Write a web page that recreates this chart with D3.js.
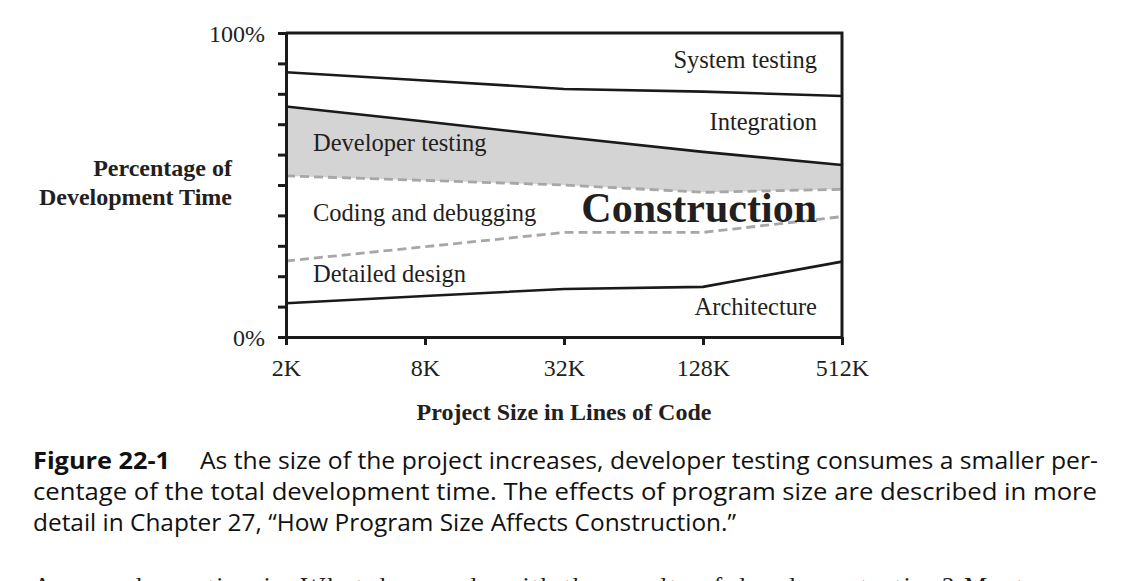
<!DOCTYPE html>
<html>
<head>
<meta charset="utf-8">
<script src="https://cdn.jsdelivr.net/npm/d3@7"></script>
<style>
  html, body { margin: 0; padding: 0; background: #fff; }
  svg { display: block; }
</style>
</head>
<body>
<svg id="chart" width="1143" height="581"></svg>
<script>
// ---- data ----
const sizeLabels = ["2K", "8K", "32K", "128K", "512K"];
const sizeK = [2, 8, 32, 128, 512];
// cumulative percentage boundaries (top edge of each activity band)
const architectureTop = [11.1, 13.5, 15.8, 16.5, 24.8];
const detailedDesignTop = [25.0, 29.7, 34.4, 34.4, 39.6];
const codingTop = [53.0, 51.5, 50.0, 47.6, 48.6];
const developerTestingTop = [75.8, 70.9, 65.8, 60.9, 56.6];
const integrationTop = [87.1, 84.4, 81.6, 80.7, 79.3];
const yTicks = [0, 10, 20, 30, 40, 50, 60, 70, 80, 90, 100];
const yTickLabels = { 0: "0%", 100: "100%" };

const svg = d3.select("#chart");
const serif = "'Liberation Serif', 'Times New Roman', serif";
const sans = "'Open Sans', 'Noto Sans', sans-serif";
const ink = "#231f20";

const x = d3.scaleLog().base(2).domain([2, 512]).range([286, 842]);
const y = d3.scaleLinear().domain([0, 100]).range([337, 33]);

const pts = arr => sizeK.map((k, i) => [k, arr[i]]);
const line = d3.line().x(d => x(d[0])).y(d => y(d[1]));
const area = d3.area()
  .x((d, i) => x(sizeK[i]))
  .y0((d, i) => y(codingTop[i]))
  .y1((d, i) => y(developerTestingTop[i]));

const g = svg.append("g");

// developer testing band
g.append("path").datum(sizeK).attr("d", area).attr("fill", "#d4d4d4");

// dashed boundaries (inside construction)
[detailedDesignTop, codingTop].forEach(arr => {
  g.append("path").datum(pts(arr)).attr("d", line)
    .attr("fill", "none").attr("stroke", "#a7a7a7")
    .attr("stroke-width", 2.8).attr("stroke-dasharray", "9,5");
});
// solid boundaries
[architectureTop, developerTestingTop, integrationTop].forEach(arr => {
  g.append("path").datum(pts(arr)).attr("d", line)
    .attr("fill", "none").attr("stroke", "#1a1a1a")
    .attr("stroke-width", 2.6);
});

// frame: top and right edges
g.append("path")
  .attr("d", `M${x(2)},${y(100)}H${x(512)}V${y(0)}`)
  .attr("fill", "none").attr("stroke", "#1a1a1a").attr("stroke-width", 3);

// axes
const yAxis = d3.axisLeft(y).tickValues(yTicks)
  .tickFormat(d => yTickLabels[d] || "").tickSize(8).tickSizeOuter(0).tickPadding(13);
const ya = svg.append("g").attr("transform", `translate(${x(2)},0)`).call(yAxis);
const xAxis = d3.axisBottom(x).tickValues(sizeK)
  .tickFormat((d, i) => sizeLabels[i]).tickSize(8).tickSizeOuter(0).tickPadding(14);
const xa = svg.append("g").attr("transform", `translate(0,${y(0)})`).call(xAxis);
[ya, xa].forEach(a => {
  a.select(".domain").attr("stroke", "#1a1a1a").attr("stroke-width", 3);
  a.selectAll(".tick line").attr("stroke", "#1a1a1a").attr("stroke-width", 3);
  a.selectAll(".tick text").attr("fill", ink).style("font-family", serif).style("font-size", "24px");
});
ya.selectAll(".tick text").attr("dy", "0.36em");

// axis titles
const titleStyle = sel => sel.style("font-family", serif).style("font-size", "24px")
  .style("font-weight", "bold").attr("fill", ink);
svg.append("text").attr("x", 232).attr("y", 176).attr("text-anchor", "end")
  .call(titleStyle).text("Percentage of");
svg.append("text").attr("x", 232).attr("y", 205).attr("text-anchor", "end")
  .call(titleStyle).text("Development Time");
svg.append("text").attr("x", 564).attr("y", 420).attr("text-anchor", "middle")
  .call(titleStyle).text("Project Size in Lines of Code");

// band labels
const bandLabels = [
  { t: "System testing", x: 817, y: 68, a: "end" },
  { t: "Integration", x: 817, y: 130, a: "end" },
  { t: "Developer testing", x: 313, y: 151, a: "start" },
  { t: "Coding and debugging", x: 313, y: 221, a: "start" },
  { t: "Detailed design", x: 313, y: 282, a: "start" },
  { t: "Architecture", x: 817, y: 315, a: "end" }
];
svg.selectAll(".band").data(bandLabels).enter().append("text")
  .attr("x", d => d.x).attr("y", d => d.y).attr("text-anchor", d => d.a)
  .style("font-family", serif).style("font-size", "24.5px").attr("fill", ink)
  .text(d => d.t);
svg.append("text").attr("x", 817).attr("y", 222).attr("text-anchor", "end")
  .style("font-family", serif).style("font-size", "42px").style("font-weight", "bold").attr("fill", ink)
  .text("Construction");

// caption
const cap = svg.append("g").style("font-family", sans).style("font-size", "24px").attr("fill", "#111");
cap.append("text").attr("x", 33).attr("y", 469).style("font-weight", "bold")
  .attr("textLength", 137).attr("lengthAdjust", "spacingAndGlyphs").text("Figure 22-1");
cap.append("text").attr("x", 200).attr("y", 469)
  .attr("textLength", 898).attr("lengthAdjust", "spacingAndGlyphs")
  .text("As the size of the project increases, developer testing consumes a smaller per-");
cap.append("text").attr("x", 33).attr("y", 500)
  .attr("textLength", 1064).attr("lengthAdjust", "spacingAndGlyphs")
  .text("centage of the total development time. The effects of program size are described in more");
cap.append("text").attr("x", 33).attr("y", 531)
  .attr("textLength", 703).attr("lengthAdjust", "spacingAndGlyphs")
  .text("detail in Chapter 27, \u201CHow Program Size Affects Construction.\u201D");

// next paragraph (cut off at the bottom edge, as in the page)
svg.append("text").attr("x", 33).attr("y", 595)
  .style("font-family", serif).style("font-size", "26px").attr("fill", ink)
  .attr("textLength", 990).attr("lengthAdjust", "spacing")
  .text("A second question is, What do you do with the results of developer testing? Most");
</script>
</body>
</html>
